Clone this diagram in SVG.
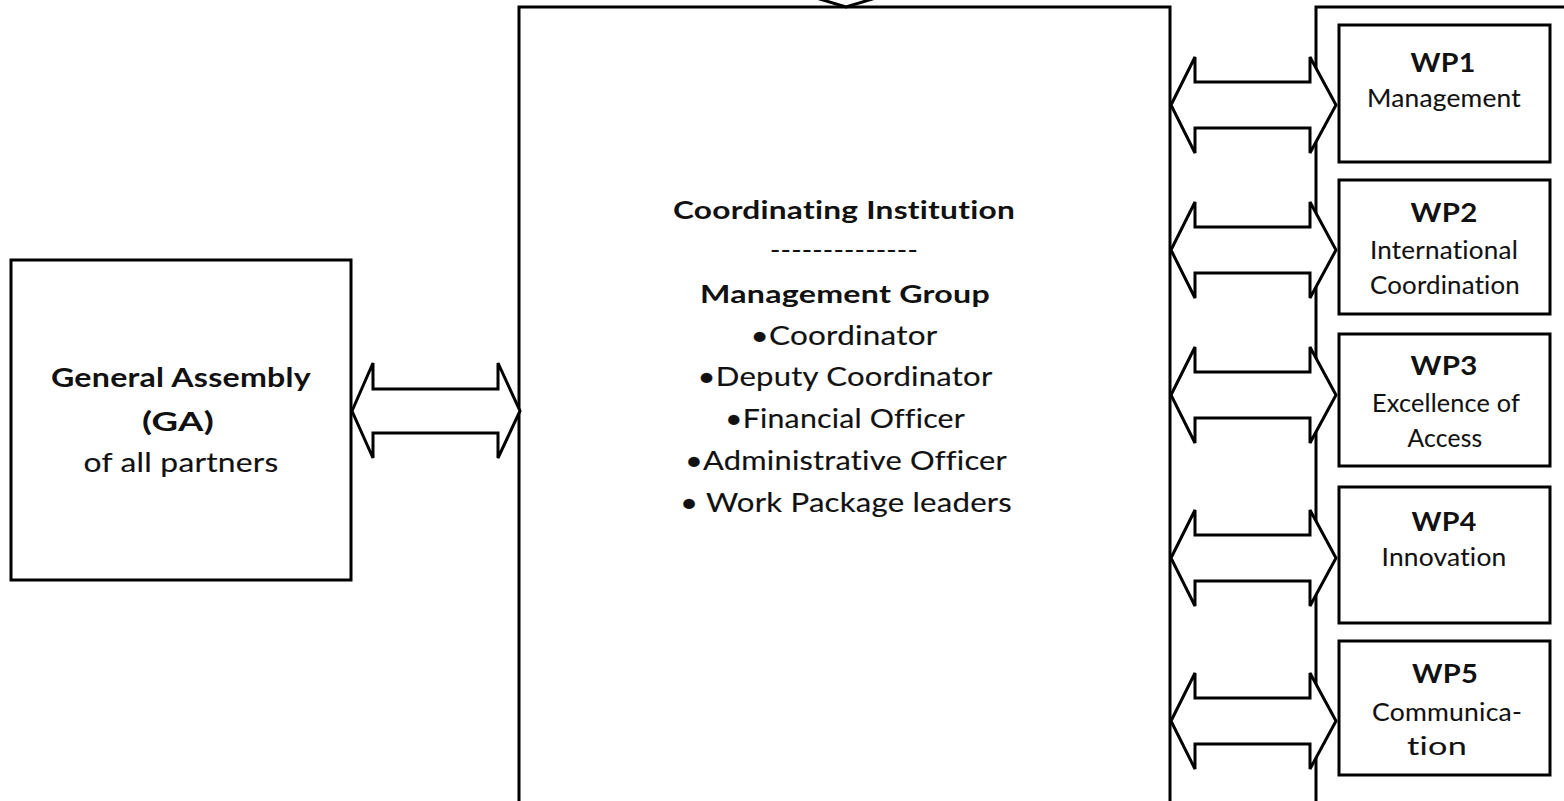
<svg xmlns="http://www.w3.org/2000/svg" xmlns:xlink="http://www.w3.org/1999/xlink" width="1564" height="801" viewBox="0 0 1564 801">
<style>
.box{fill:#fff;stroke:#000;stroke-width:3}
.arr{fill:#fff;stroke:#000;stroke-width:3;stroke-linejoin:miter}
text{font-family:Lato,"Liberation Sans",sans-serif;fill:#111;text-anchor:middle;font-variant-ligatures:none;font-feature-settings:"liga" 0,"clig" 0,"dlig" 0;letter-spacing:0.2px}
.b{font-weight:bold;font-size:25.5px}
.r{font-size:27.5px;stroke:#111;stroke-width:0.15px}
.wb{font-weight:bold;font-size:26.5px}
.wr{font-size:25px;stroke:#111;stroke-width:0.1px}
</style>
<defs>
<path id="rarrow" d="M1171 0 L1195 -48 L1195 -23 L1310 -23 L1310 -48 L1336 0 L1310 48 L1310 23 L1195 23 L1195 48 Z"/>
</defs>
<rect width="1564" height="801" fill="#fff"/>
<g id="outer-wp-frame"><rect class="box" x="1316" y="7" width="300" height="900"/></g>
<g id="general-assembly">
<rect class="box" x="11" y="260" width="340" height="320"/>
<text class="b" x="181" y="387" textLength="260" lengthAdjust="spacingAndGlyphs" style="font-size:26.5px">General Assembly</text>
<text class="b" x="178" y="431" textLength="72" lengthAdjust="spacingAndGlyphs" style="font-size:26.5px">(GA)</text>
<text class="r" x="181" y="472" textLength="195" lengthAdjust="spacingAndGlyphs">of all partners</text>
</g>
<g id="coordinating-institution">
<rect class="box" x="519" y="7" width="651" height="900"/>
<text class="b" x="844" y="219" textLength="342" lengthAdjust="spacingAndGlyphs">Coordinating Institution</text>
<text class="r" x="844" y="259" textLength="148" lengthAdjust="spacingAndGlyphs">--------------</text>
<text class="b" x="845" y="303" textLength="290" lengthAdjust="spacingAndGlyphs">Management Group</text>
<text class="r" x="844" y="345" textLength="187" lengthAdjust="spacingAndGlyphs">•Coordinator</text>
<text class="r" x="845" y="386" textLength="295" lengthAdjust="spacingAndGlyphs">•Deputy Coordinator</text>
<text class="r" x="845" y="428" textLength="240" lengthAdjust="spacingAndGlyphs">•Financial Officer</text>
<text class="r" x="846" y="470" textLength="322" lengthAdjust="spacingAndGlyphs">•Administrative Officer</text>
<text class="r" x="846" y="512" textLength="332" lengthAdjust="spacingAndGlyphs">• Work Package leaders</text>
</g>
<g id="wp1">
<rect class="box" x="1339" y="25" width="211" height="137"/>
<text class="wb" x="1443" y="72" textLength="65" lengthAdjust="spacingAndGlyphs">WP1</text>
<text class="wr" x="1444" y="107" textLength="154" lengthAdjust="spacingAndGlyphs">Management</text>
</g>
<g id="wp2">
<rect class="box" x="1339" y="180" width="211" height="134"/>
<text class="wb" x="1444" y="222" textLength="67" lengthAdjust="spacingAndGlyphs">WP2</text>
<text class="wr" x="1444" y="259" textLength="148" lengthAdjust="spacingAndGlyphs">International</text>
<text class="wr" x="1445" y="294" textLength="150" lengthAdjust="spacingAndGlyphs">Coordination</text>
</g>
<g id="wp3">
<rect class="box" x="1339" y="334" width="211" height="132"/>
<text class="wb" x="1444" y="375" textLength="67" lengthAdjust="spacingAndGlyphs">WP3</text>
<text class="wr" x="1446" y="412" textLength="148" lengthAdjust="spacingAndGlyphs">Excellence of</text>
<text class="wr" x="1445" y="447" textLength="75" lengthAdjust="spacingAndGlyphs">Access</text>
</g>
<g id="wp4">
<rect class="box" x="1339" y="487" width="211" height="136"/>
<text class="wb" x="1444" y="531" textLength="65" lengthAdjust="spacingAndGlyphs">WP4</text>
<text class="wr" x="1444" y="566" textLength="125" lengthAdjust="spacingAndGlyphs">Innovation</text>
</g>
<g id="wp5">
<rect class="box" x="1339" y="641" width="211" height="134"/>
<text class="wb" x="1445" y="683" textLength="66" lengthAdjust="spacingAndGlyphs">WP5</text>
<text class="wr" x="1447" y="721" textLength="150" lengthAdjust="spacingAndGlyphs">Communica-</text>
<text class="wr" x="1437" y="755" textLength="60" lengthAdjust="spacingAndGlyphs">tion</text>
</g>
<g id="connectors">
<path class="arr" d="M352 411 L373 363 L373 389 L498 389 L498 363 L520 411 L498 458 L498 433 L373 433 L373 458 Z"/>
<use class="arr" xlink:href="#rarrow" href="#rarrow" transform="translate(0,105)"/>
<use class="arr" xlink:href="#rarrow" href="#rarrow" transform="translate(0,250)"/>
<use class="arr" xlink:href="#rarrow" href="#rarrow" transform="translate(0,395)"/>
<use class="arr" xlink:href="#rarrow" href="#rarrow" transform="translate(0,558)"/>
<use class="arr" xlink:href="#rarrow" href="#rarrow" transform="translate(0,721)"/>
<path class="arr" d="M813 -3 L846 7 L879 -3"/>
</g>
</svg>
